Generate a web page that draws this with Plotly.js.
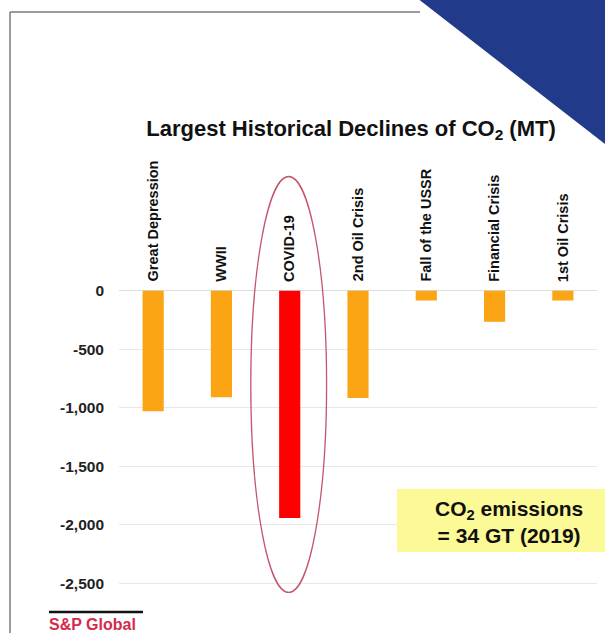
<!DOCTYPE html>
<html>
<head>
<meta charset="utf-8">
<script src="https://cdn.plot.ly/plotly-3.0.1.min.js"></script>
<style>
  html, body { margin: 0; padding: 0; background: #fff; }
  #chart { width: 605px; height: 633px; }
</style>
</head>
<body>
<div id="chart"></div>
<script>
// ---- data ----
const categories = ["Great Depression", "WWII", "COVID-19", "2nd Oil Crisis", "Fall of the USSR", "Financial Crisis", "1st Oil Crisis"];
const declines = [-1030, -910, -1940, -915, -83, -265, -83];
const barColors = ["#fba514", "#fba514", "#ff0000", "#fba514", "#fba514", "#fba514", "#fba514"];
const yTickVals = [0, -500, -1000, -1500, -2000, -2500];
const yTickText = ["0", "-500", "-1,000", "-1,500", "-2,000", "-2,500"];

// ---- layout geometry (pixels) ----
const W = 605, H = 633;
const M = { l: 119, r: 8, t: 162, b: 32 };
const plotW = W - M.l - M.r, plotH = H - M.t - M.b;
const px = x => (x - M.l) / plotW;
const py = y => (H - M.b - y) / plotH;

const FONT = "Liberation Sans, Arial, sans-serif";

const trace = {
  type: "bar",
  x: categories,
  y: declines,
  marker: { color: barColors },
  hoverinfo: "x+y"
};

const labelAnnotations = categories.map(c => ({
  x: c, y: 0, xref: "x", yref: "y",
  text: c, textangle: -90, showarrow: false,
  yanchor: "bottom", xanchor: "center", yshift: 7,
  font: { family: FONT, size: 14.5, color: "#111", weight: "bold" }
}));

const layout = {
  width: W, height: H,
  margin: M,
  paper_bgcolor: "#fff", plot_bgcolor: "#fff",
  showlegend: false,
  bargap: 0.69,
  font: { family: FONT },
  title: {
    text: "<b>Largest Historical Declines of CO<sub>2</sub> (MT)</b>",
    font: { family: FONT, size: 22, color: "#111" },
    xref: "paper", x: px(351), xanchor: "center",
    yref: "container", y: 1 - 128 / H, yanchor: "middle"
  },
  xaxis: {
    type: "category", range: [-0.5, 6.5],
    showticklabels: false, showgrid: false, zeroline: false, showline: false, ticks: ""
  },
  yaxis: {
    range: [-2650, 1100],
    tickvals: yTickVals, ticktext: yTickText,
    tickfont: { family: FONT, size: 15.5, color: "#222", weight: "bold" },
    ticks: "", ticklabelstandoff: 14,
    showgrid: true, gridcolor: "#e8e8e8", gridwidth: 1,
    zeroline: true, zerolinecolor: "#dddddd", zerolinewidth: 1,
    showline: false
  },
  shapes: [
    // ellipse around COVID-19
    { type: "circle", xref: "x", yref: "y", x0: 1.43, x1: 2.54, y0: -2577, y1: 976,
      line: { color: "#c4566e", width: 1.3 }, fillcolor: "rgba(0,0,0,0)", layer: "above" },
    // frame lines
    { type: "line", xref: "paper", yref: "paper", x0: px(10), x1: px(10), y0: py(12), y1: py(640),
      line: { color: "#7a7a7a", width: 1.5 } },
    { type: "line", xref: "paper", yref: "paper", x0: px(10), x1: px(420), y0: py(12), y1: py(12),
      line: { color: "#7a7a7a", width: 1.5 } },
    // blue corner triangle
    { type: "path", xref: "paper", yref: "paper",
      path: `M ${px(417)} ${py(-2)} L ${px(610)} ${py(-2)} L ${px(610)} ${py(148)} Z`,
      fillcolor: "#213a8a", line: { width: 0 }, layer: "above" },
    // yellow box
    { type: "rect", xref: "paper", yref: "paper", x0: px(397), x1: px(610), y0: py(552), y1: py(489),
      fillcolor: "#fbfa96", line: { width: 0 }, layer: "above" },
    // S&P line
    { type: "line", xref: "paper", yref: "paper", x0: px(49), x1: px(143), y0: py(612), y1: py(612),
      line: { color: "#111", width: 2.5 } }
  ],
  annotations: labelAnnotations.concat([
    { xref: "paper", yref: "paper", x: px(509), y: py(522), xanchor: "center", yanchor: "middle",
      text: "<b>CO<sub>2</sub> emissions<br>= 34 GT (2019)</b>", showarrow: false,
      font: { family: FONT, size: 21, color: "#111" } },
    { xref: "paper", yref: "paper", x: px(47), y: py(614), xanchor: "left", yanchor: "top",
      text: "<b>S&amp;P Global</b>", showarrow: false,
      font: { family: FONT, size: 16, color: "#d42a4e" } }
  ])
};

Plotly.newPlot("chart", [trace], layout, { displayModeBar: false, staticPlot: true });
</script>
</body>
</html>
